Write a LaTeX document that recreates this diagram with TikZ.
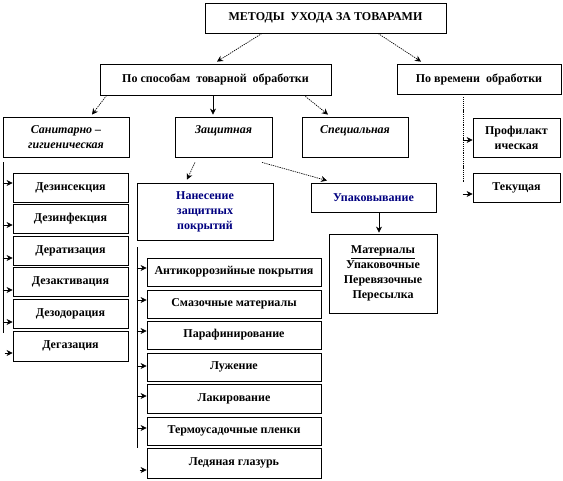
\documentclass[tikz,border=0pt]{standalone}
\usepackage{fontspec}
\setmainfont{Liberation Serif}
\usetikzlibrary{arrows.meta,calc}
\definecolor{navyt}{RGB}{0,0,128}
\begin{document}
\begin{tikzpicture}[x=0.75pt,y=-0.75pt,
  box/.style={draw=black, line width=0.6pt, inner sep=1pt, align=center,
    font=\fontsize{9}{11.2}\selectfont\bfseries},
  sz/.style 2 args={minimum width=#1*0.75pt, minimum height=#2*0.75pt},
  itx/.style={font=\fontsize{9}{11.2}\selectfont\bfseries\itshape},
  arr/.style={-{Stealth[length=4.5pt,width=4.5pt]}, line width=0.5pt},
  dotarr/.style={arr, dash pattern=on 1pt off 0.7pt},
  dotline/.style={line width=0.6pt, dash pattern=on 0.8pt off 0.6pt},
  solline/.style={line width=0.6pt}
]
\useasboundingbox (0,0) rectangle (563,481);

\node[box, sz={241}{30}] (title) at (325.5,18) {МЕТОДЫ\ \ УХОДА ЗА ТОВАРАМИ};
\node[box, sz={231}{31}] (sposob) at (215.5,79.5) {По способам\ \ товарной\ \ обработки};
\node[box, sz={164}{30}] (vremya) at (479,79) {По времени\ \ обработки};

\node[box, itx, sz={126}{40}] (sanit) at (66,137) {Санитарно –\\гигиеническая};
\node[box, itx, sz={97}{40}] (zasch) at (223.5,137) {Защитная\\\mbox{}};
\node[box, itx, sz={106}{40}] (spec) at (355,137) {Специальная\\\mbox{}};
\node[box, sz={87}{39}] (profil) at (516.5,137.5) {Профилакт\\ическая};
\node[box, sz={87}{29}] (tekush) at (516.5,187.5) {Текущая};

\node[box, sz={115}{29}] (dez1) at (70.5,187.5) {Дезинсекция};
\node[box, sz={115}{29}] (dez2) at (70.5,218.5) {Дезинфекция};
\node[box, sz={115}{29}] (dez3) at (70.5,250.5) {Дератизация};
\node[box, sz={115}{29}] (dez4) at (70.5,281.5) {Дезактивация};
\node[box, sz={115}{29}] (dez5) at (70.5,313.5) {Дезодорация};
\node[box, sz={115}{30}] (dez6) at (70.5,346) {Дегазация};

\node[box, sz={136}{57}, text=navyt] (nanes) at (205,211.5) {Нанесение\\защитных\\покрытий};
\node[box, sz={125}{29}, text=navyt] (upak) at (373.5,197.5) {Упаковывание};
\node[box, sz={108}{79}] (mater) at (383,273.5) {\underline{Материалы}\\Упаковочные\\Перевязочные\\Пересылка};

\node[box, sz={174}{28}] (a1) at (234,272) {Антикоррозийные покрытия};
\node[box, sz={174}{28}] (a2) at (234,304) {Смазочные материалы};
\node[box, sz={174}{28}] (a3) at (234,335) {Парафинирование};
\node[box, sz={174}{28}] (a4) at (234,367) {Лужение};
\node[box, sz={174}{29}] (a5) at (234,398.5) {Лакирование};
\node[box, sz={174}{28}] (a6) at (234,431) {Термоусадочные пленки};
\node[box, sz={174}{30}] (a7) at (234,463) {Ледяная глазурь};

% top connectors
\draw[dotarr] ($(title.south)+(-63.5,0)$) -- ($(sposob.north)+(1.5,-2)$);
\draw[dotarr] ($(title.south)+(52.5,0)$) -- ($(vremya.north)+(-58,-2)$);
\draw[dotarr] ($(sposob.south west)+(7,0)$) -- ($(sanit.north)+(26,-2)$);
\draw[arr] ($(sposob.south)+(-2.5,0)$) -- ($(zasch.north)+(-10.5,-2)$);
\draw[dotarr] ($(sposob.south east)+(-26,1)$) -- ($(spec.north)+(-27,-2)$);
\draw[dotarr] ($(zasch.south)+(-28.5,5)$) -- ($(nanes.north)+(-18,-3)$);
\draw[dotarr] ($(zasch.south)+(38.5,5)$) -- ($(upak.north)+(-46.5,-2)$);
\draw[arr] ($(upak.south)+(5.5,0)$) -- ($(mater.north)+(-4,-1)$);

% right branch
\coordinate (v1) at ($(vremya.south)+(-16,3)$);
\coordinate (v2) at ($(vremya.south)+(-16,88)$);
\draw[dotline] (v1) -- (v2);
\draw[arr] ($(profil.west)+(-10,2.5)$) -- ($(profil.west)+(0,2.5)$);
\draw[arr] ($(tekush.west)+(-10,6.5)$) -- ($(tekush.west)+(0,6.5)$);

% left branch
\coordinate (l1) at (3,162);
\coordinate (l2) at (3,333);
\draw[solline] (l1) -- (l2);
\draw[arr] ($(dez1.west)+(-10,-4.5)$) -- ($(dez1.west)+(0,-4.5)$);
\draw[arr] ($(dez2.west)+(-10,6.5)$) -- ($(dez2.west)+(0,6.5)$);
\draw[arr] ($(dez3.west)+(-10,7.5)$) -- ($(dez3.west)+(0,7.5)$);
\draw[arr] ($(dez4.west)+(-10,8.5)$) -- ($(dez4.west)+(0,8.5)$);
\draw[arr] ($(dez5.west)+(-10,8.5)$) -- ($(dez5.west)+(0,8.5)$);
\draw[arr] ($(dez6.west)+(-8,7)$) -- ($(dez6.west)+(0,7)$);

% middle branch
\coordinate (m1) at (137,247);
\coordinate (m2) at (137,448);
\draw[solline] (m1) -- (m2);
\draw[arr] ($(a1.west)+(-10,-4)$) -- ($(a1.west)+(0,-4)$);
\draw[arr] ($(a2.west)+(-10,-4)$) -- ($(a2.west)+(0,-4)$);
\draw[arr] ($(a3.west)+(-10,-4)$) -- ($(a3.west)+(0,-4)$);
\draw[arr] ($(a4.west)+(-10,-1)$) -- ($(a4.west)+(0,-1)$);
\draw[arr] ($(a5.west)+(-10,-2.5)$) -- ($(a5.west)+(0,-2.5)$);
\draw[arr] ($(a6.west)+(-10,-3)$) -- ($(a6.west)+(0,-3)$);
\draw[arr] ($(a7.west)+(-7,7)$) -- ($(a7.west)+(0,7)$);
\end{tikzpicture}
\end{document}
